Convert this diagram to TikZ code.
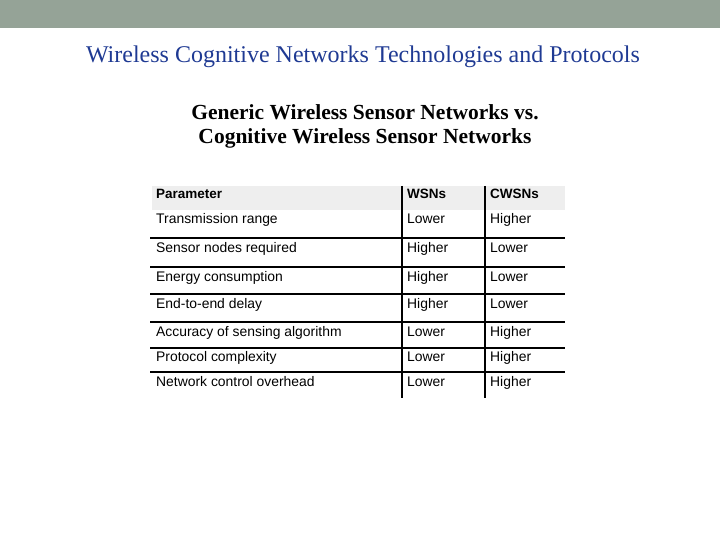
\documentclass[tikz,border=0pt]{standalone}
\usepackage{fontspec}
\setmainfont{Liberation Serif}
\newfontfamily\tabfont{Liberation Sans}
\definecolor{banner}{HTML}{95A397}
\definecolor{titleblue}{HTML}{1F3A93}
\definecolor{hdr}{HTML}{EEEEEE}
\begin{document}
\begin{tikzpicture}[x=1pt,y=-1pt,
  cell/.style={anchor=base west,inner sep=0pt,font=\tabfont\fontsize{13.9}{16}\selectfont},
  hcell/.style={cell,font=\tabfont\bfseries\fontsize{13.5}{16}\selectfont},
  rule/.style={line width=1.6pt}]
\useasboundingbox (0,0) rectangle (720,540);
\fill[banner] (0,0) rectangle (720,28);
\node[text=titleblue,font=\fontsize{24}{28}\selectfont] (title) at (363,57) {Wireless Cognitive Networks Technologies and Protocols};
\node[font=\bfseries\fontsize{21.5}{24}\selectfont,align=center] (sub) at (365,126) {Generic Wireless Sensor Networks vs.\\Cognitive Wireless Sensor Networks};
\fill[hdr] (152,186) rectangle (565,210);
\foreach \y in {238,267,294,322,348,372} \draw[rule] (150,\y) -- (565,\y);
\draw[rule] (402,186) -- (402,398);
\draw[rule] (485,186) -- (485,398);
\node[hcell] (h1) at (156,199) {Parameter};
\node[hcell] (h2) at (407,199) {WSNs};
\node[hcell] (h3) at (490,199) {CWSNs};
\foreach \t/\a/\b/\y [count=\i] in {Transmission range/Lower/Higher/224,Sensor nodes required/Higher/Lower/252,Energy consumption/Higher/Lower/281,End-to-end delay/Higher/Lower/308,Accuracy of sensing algorithm/Lower/Higher/336,Protocol complexity/Lower/Higher/361,Network control overhead/Lower/Higher/386}{
  \node[cell] (p\i) at (156,\y) {\t};
  \node[cell] (w\i) at (407,\y) {\a};
  \node[cell] (c\i) at (490,\y) {\b};
}
\end{tikzpicture}
\end{document}
